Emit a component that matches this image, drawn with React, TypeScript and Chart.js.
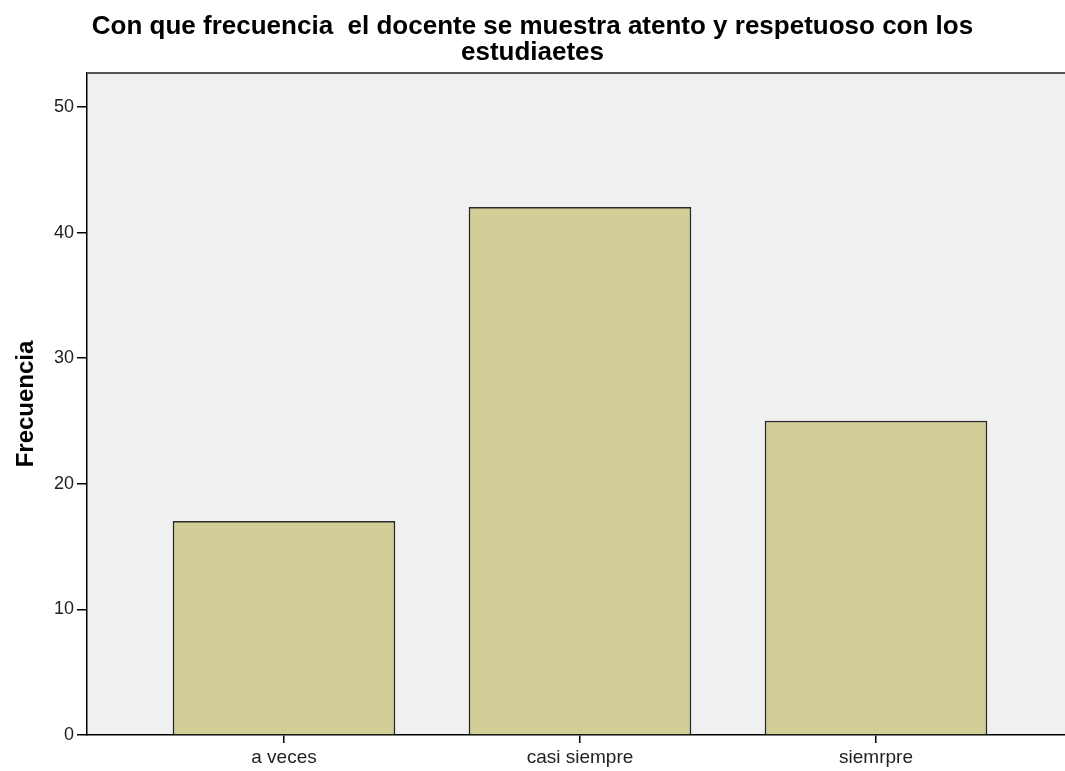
import React, { useEffect, useRef } from "react";
import { Chart, registerables } from "chart.js";

Chart.register(...registerables);

const categories = ["a veces", "casi siempre", "siemrpre"];
const frequencies = [17, 42, 25];
const yTicks = [0, 10, 20, 30, 40, 50];
const titleLines = [
  "Con que frecuencia  el docente se muestra atento y respetuoso con los",
  "estudiaetes",
];
const yAxisTitle = "Frecuencia";

const FONT = "Liberation Sans, Arial, sans-serif";

const plotBg = {
  id: "plotBg",
  beforeDraw(chart: any) {
    const { ctx, chartArea } = chart;
    ctx.save();
    ctx.fillStyle = "#F0F0F0";
    ctx.fillRect(chartArea.left, chartArea.top, chartArea.right - chartArea.left, chartArea.bottom - chartArea.top);
    ctx.restore();
  },
  afterDraw(chart: any) {
    const { ctx, chartArea } = chart;
    ctx.save();
    ctx.strokeStyle = "#555555";
    ctx.lineWidth = 2;
    ctx.beginPath();
    ctx.moveTo(chartArea.left, chartArea.top);
    ctx.lineTo(chartArea.right, chartArea.top);
    ctx.stroke();
    ctx.restore();
  },
};

export default function App() {
  const ref = useRef<HTMLCanvasElement>(null);
  useEffect(() => {
    if (!ref.current) return;
    const chart = new Chart(ref.current, {
      type: "bar",
      data: {
        datasets: [
          {
            data: frequencies.map((v, i) => ({ x: i, y: v })),
            backgroundColor: "#D3CE97",
            borderColor: "#2A2A2A",
            borderWidth: 1.5,
            barThickness: 222,
          },
        ],
      },
      options: {
        animation: false,
        responsive: false,
        layout: { padding: 0 },
        plugins: {
          legend: { display: false },
          tooltip: { enabled: false },
          title: {
            display: true,
            text: titleLines,
            color: "#000",
            font: { family: FONT, size: 26, weight: "bold", lineHeight: 1.0 },
            padding: { top: 14, bottom: 7 },
          },
        },
        scales: {
          x: {
            type: "linear",
            offset: false,
            min: -0.6655,
            max: 2.6385,
            afterBuildTicks: (scale: any) => {
              scale.ticks = categories.map((_, i) => ({ value: i }));
            },
            afterFit: (scale: any) => {
              scale.height = 36;
            },
            ticks: {
              callback: (v: any) => categories[Math.round(Number(v))] ?? "",
              color: "#222",
              font: { family: FONT, size: 19 },
              padding: 3,
              maxRotation: 0,
              autoSkip: false,
            },
            grid: { offset: false, drawOnChartArea: false, drawTicks: true, tickLength: 8, color: "#000", lineWidth: 1.5 },
            border: { display: true, color: "#000", width: 1.5 },
          },
          y: {
            min: 0,
            max: 52.7,
            afterBuildTicks: (scale: any) => {
              scale.ticks = yTicks.map((v) => ({ value: v }));
            },
            afterFit: (scale: any) => {
              scale.width = 87;
            },
            ticks: {
              color: "#222",
              font: { family: FONT, size: 18 },
              padding: 3,
            },
            grid: { drawOnChartArea: false, drawTicks: true, tickLength: 10, color: "#000", lineWidth: 1.5 },
            border: { display: true, color: "#000", width: 1.5 },
            title: {
              display: true,
              text: yAxisTitle,
              color: "#000",
              font: { family: FONT, size: 24, weight: "bold" },
              padding: { top: 12, bottom: 0 },
            },
          },
        },
      },
      plugins: [plotBg],
    });
    return () => chart.destroy();
  }, []);
  return (
    <div style={{ position: "fixed", left: 0, top: 0, width: 1065, height: 771, background: "#fff" }}>
      <canvas ref={ref} width={1065} height={771} style={{ display: "block" }} />
    </div>
  );
}
